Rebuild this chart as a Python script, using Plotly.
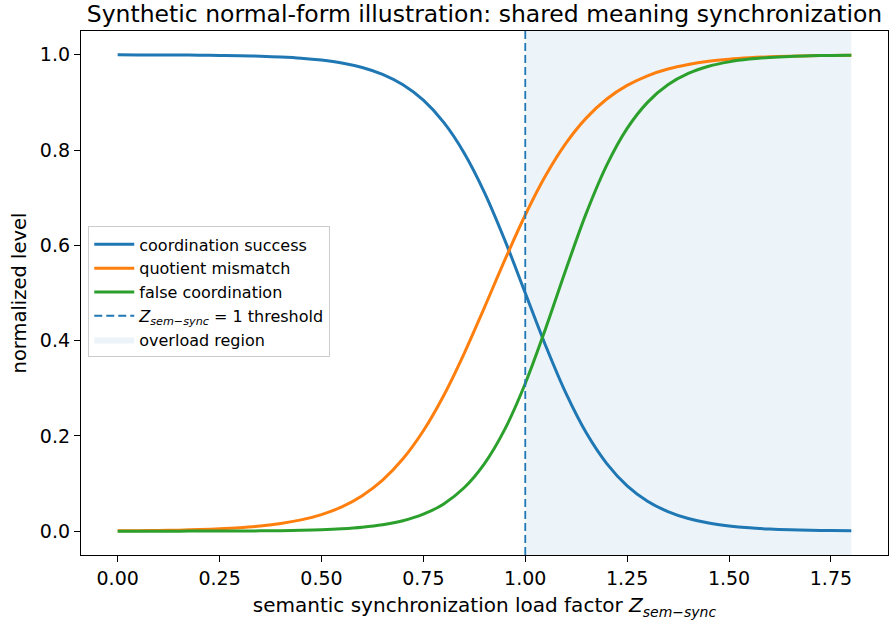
import plotly.graph_objects as go

# ---- data ----
load_factor = [0.00, 0.05, 0.10, 0.15, 0.20, 0.25, 0.30, 0.35, 0.40, 0.45,
               0.50, 0.55, 0.60, 0.65, 0.70, 0.75, 0.80, 0.85, 0.90, 0.95,
               1.00, 1.05, 1.10, 1.15, 1.20, 1.25, 1.30, 1.35, 1.40, 1.45,
               1.50, 1.55, 1.60, 1.65, 1.70, 1.75, 1.80]

coordination_success = [0.9999, 0.9998, 0.9997, 0.9995, 0.9993, 0.9988, 0.9982, 0.9971, 0.9955, 0.9930,
                        0.9890, 0.9829, 0.9734, 0.9589, 0.9370, 0.9047, 0.8581, 0.7941, 0.7109, 0.6106,
                        0.5000, 0.3894, 0.2891, 0.2059, 0.1419, 0.0953, 0.0630, 0.0411, 0.0266, 0.0171,
                        0.0110, 0.0070, 0.0045, 0.0029, 0.0018, 0.0012, 0.0007]

quotient_mismatch = [0.0007, 0.0010, 0.0015, 0.0022, 0.0033, 0.0049, 0.0073, 0.0108, 0.0160, 0.0237,
                     0.0349, 0.0511, 0.0745, 0.1072, 0.1519, 0.2108, 0.2849, 0.3729, 0.4700, 0.5695,
                     0.6637, 0.7465, 0.8146, 0.8676, 0.9072, 0.9358, 0.9560, 0.9701, 0.9797, 0.9864,
                     0.9908, 0.9938, 0.9958, 0.9972, 0.9981, 0.9987, 0.9992]

false_coordination = [0.0000, 0.0000, 0.0001, 0.0001, 0.0002, 0.0002, 0.0004, 0.0007, 0.0011, 0.0018,
                      0.0030, 0.0050, 0.0082, 0.0134, 0.0219, 0.0356, 0.0573, 0.0911, 0.1419, 0.2142,
                      0.3100, 0.4256, 0.5498, 0.6682, 0.7685, 0.8455, 0.9002, 0.9370, 0.9608, 0.9759,
                      0.9852, 0.9910, 0.9945, 0.9967, 0.9980, 0.9988, 0.9993]

threshold = 1.0
overload_end = 1.8
y_span = [-0.05, 1.05]

x_ticks = [0.00, 0.25, 0.50, 0.75, 1.00, 1.25, 1.50, 1.75]
x_tick_labels = ["0.00", "0.25", "0.50", "0.75", "1.00", "1.25", "1.50", "1.75"]
y_ticks = [0.0, 0.2, 0.4, 0.6, 0.8, 1.0]
y_tick_labels = ["0.0", "0.2", "0.4", "0.6", "0.8", "1.0"]

ZLABEL = "<i>Z</i><sub><i>sem\u2212sync</i></sub>"

FONT = "DejaVu Sans"
fig = go.Figure()

# overload region (drawn first, under everything)
fig.add_trace(go.Scatter(
    x=[threshold, overload_end, overload_end, threshold, threshold],
    y=[y_span[0], y_span[0], y_span[1], y_span[1], y_span[0]],
    fill="toself", fillcolor="rgba(31,119,180,0.08)",
    line=dict(width=0), mode="lines", hoverinfo="skip",
    name="overload region", legendrank=5))

fig.add_trace(go.Scatter(x=load_factor, y=coordination_success, mode="lines",
                         line=dict(color="#1f77b4", width=3, shape="spline"),
                         name="coordination success", legendrank=1))
fig.add_trace(go.Scatter(x=load_factor, y=quotient_mismatch, mode="lines",
                         line=dict(color="#ff7f0e", width=3, shape="spline"),
                         name="quotient mismatch", legendrank=2))
fig.add_trace(go.Scatter(x=load_factor, y=false_coordination, mode="lines",
                         line=dict(color="#2ca02c", width=3, shape="spline"),
                         name="false coordination", legendrank=3))
fig.add_trace(go.Scatter(x=[threshold, threshold], y=y_span, mode="lines",
                         line=dict(color="#1f77b4", width=1.8, dash="8px,4px"),
                         name=ZLABEL + " = 1 threshold", legendrank=4))

axis_common = dict(showline=True, mirror=True, linecolor="black", linewidth=1.3,
                   ticks="outside", ticklen=6, tickwidth=1.3, tickcolor="black",
                   showgrid=False, zeroline=False,
                   tickfont=dict(family=FONT, size=19, color="black"))

fig.update_xaxes(range=[-0.09, 1.89], tickvals=x_ticks, ticktext=x_tick_labels,
                 title=dict(text="semantic synchronization load factor " + ZLABEL,
                            font=dict(family=FONT, size=20, color="black"), standoff=10),
                 **axis_common)
fig.update_yaxes(range=y_span, tickvals=y_ticks, ticktext=y_tick_labels,
                 title=dict(text="normalized level",
                            font=dict(family=FONT, size=19.5, color="black"), standoff=8),
                 **axis_common)

fig.update_layout(
    width=896, height=623,
    margin=dict(l=81, r=8, t=31, b=68),
    paper_bgcolor="white", plot_bgcolor="white",
    font=dict(family=FONT, color="black"),
    title=dict(text="Synthetic normal-form illustration: shared meaning synchronization",
               x=0.5, xref="paper", xanchor="center", y=1 - 13.5 / 623, yanchor="middle",
               font=dict(family=FONT, size=23.5, color="black")),
    legend=dict(x=0.009, y=0.627, xanchor="left", yanchor="top",
                bgcolor="rgba(255,255,255,0.8)", bordercolor="#cccccc", borderwidth=1,
                font=dict(family=FONT, size=16, color="black"),
                itemwidth=40, tracegroupgap=0),
    showlegend=True,
)

fig.write_html("out.html")
